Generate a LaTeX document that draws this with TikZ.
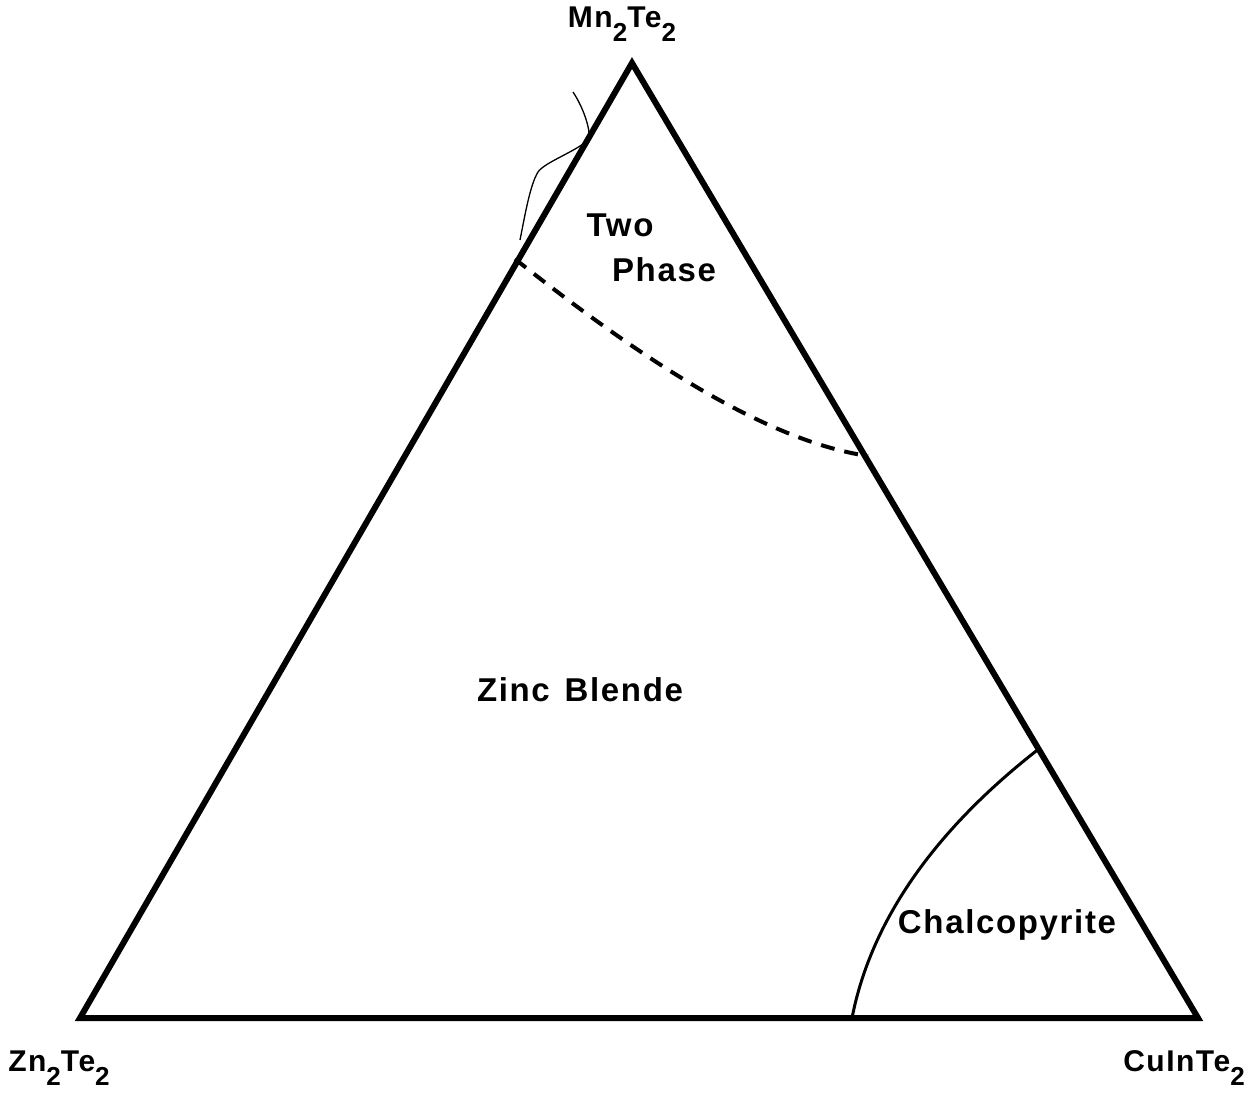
\documentclass[tikz,border=0pt]{standalone}
\usepackage{fontspec}
\setmainfont{Liberation Sans}
\newfontfamily\spaced[LetterSpace=5]{Liberation Sans}
\newcommand{\lbl}{\spaced\fontsize{33}{36}\selectfont\bfseries}
\newcommand{\crn}{\spaced\fontsize{30}{32}\selectfont\bfseries}
\newcommand{\subtwo}{\raisebox{-0.45em}{\fontsize{26}{26}\selectfont\bfseries 2}}
\begin{document}
\begin{tikzpicture}[x=1pt,y=-1pt,
  edge/.style={line width=6pt,line join=miter},
  phaseline/.style={line width=3pt},
  dashline/.style={line width=4pt,dash pattern=on 14pt off 10pt},
  scribble/.style={line width=1.3pt},
  region/.style={font=\lbl,inner sep=0pt},
  corner/.style={font=\crn,inner sep=0pt}]
\useasboundingbox (0,0) rectangle (1257,1095);
\coordinate (top) at (632,63);
\coordinate (bl) at (80,1018);
\coordinate (br) at (1198,1018);
\draw[edge] (top) -- (br) -- (bl) -- cycle;
% dashed boundary
\coordinate (d1) at (515,259);
\coordinate (d2) at (868,456);
\draw[dashline] (d1) .. controls (630,350) and (760,440) .. (d2);
% chalcopyrite boundary
\coordinate (c1) at (1040,748);
\coordinate (c2) at (852,1018);
\draw[phaseline] (c1) .. controls (960,810) and (875,900) .. (c2);
% hand scribble
\coordinate (s0) at (573,92);
\coordinate (s1) at (520,240);
\draw[scribble] (s0) .. controls (585,110) and (592,135) .. (588,140)
  .. controls (575,152) and (545,162) .. (538,172)
  .. controls (530,185) and (525,215) .. (s1);
% labels
\node[corner] (mn) at (622,24) {Mn\subtwo Te\subtwo};
\node[corner] (zn) at (59,1068) {Zn\subtwo Te\subtwo};
\node[corner] (cu) at (1184,1068) {CuInTe\subtwo};
\node[region] (two) at (620,225) {Two};
\node[region] (phase) at (664,270) {Phase};
\node[region] (zb) at (580,690) {Zinc\hspace{4pt} Blende};
\node[region] (ch) at (1007,925) {Chalcopyrite};
\end{tikzpicture}
\end{document}
